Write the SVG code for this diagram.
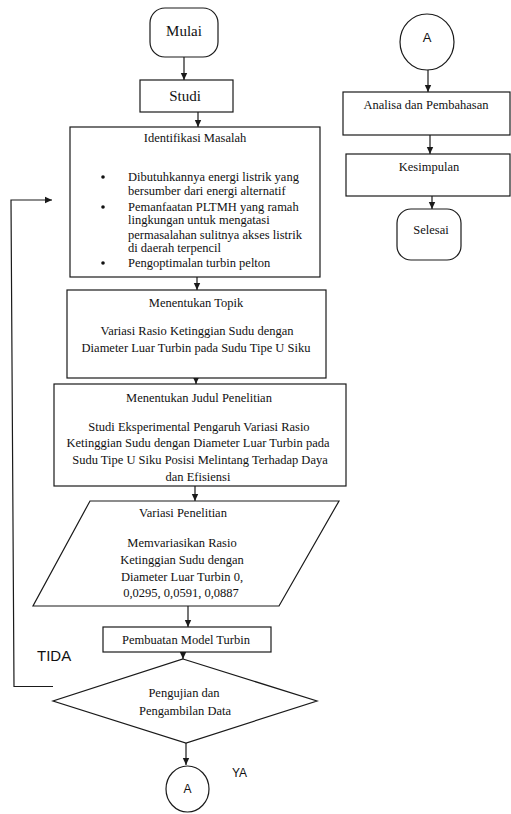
<svg xmlns="http://www.w3.org/2000/svg" width="511" height="814" viewBox="0 0 511 814">
<defs>
<marker id="ah" markerWidth="8" markerHeight="8" refX="7" refY="4" orient="auto" markerUnits="userSpaceOnUse">
<path d="M0,0.8 L7,4 L0,7.2 Z" fill="#1a1a1a"/>
</marker>
<style>
.s{fill:#fff;stroke:#1a1a1a;stroke-width:1.2}
.c{fill:none;stroke:#1a1a1a;stroke-width:1.2}
.t{font-family:"Liberation Serif","Times New Roman",serif;font-size:12.5px;fill:#111;text-anchor:middle}
.tl{font-family:"Liberation Serif","Times New Roman",serif;font-size:12.5px;fill:#111}
.big{font-family:"Liberation Serif","Times New Roman",serif;font-size:15px;fill:#111;text-anchor:middle}
.sa{font-family:"Liberation Sans",Arial,sans-serif;fill:#111}
</style>
</defs>
<rect width="511" height="814" fill="#fff"/>

<g id="connectors">
<line class="c" x1="184" y1="57" x2="184" y2="80" marker-end="url(#ah)"/>
<line class="c" x1="198" y1="112" x2="198" y2="127" marker-end="url(#ah)"/>
<line class="c" x1="197" y1="277" x2="197" y2="290" marker-end="url(#ah)"/>
<line class="c" x1="196" y1="378" x2="196" y2="384" marker-end="url(#ah)"/>
<line class="c" x1="195" y1="486" x2="195" y2="501" marker-end="url(#ah)"/>
<line class="c" x1="188" y1="606" x2="188" y2="627" marker-end="url(#ah)"/>
<line class="c" x1="183" y1="652" x2="183" y2="659" marker-end="url(#ah)"/>
<line class="c" x1="186" y1="743" x2="186" y2="765" marker-end="url(#ah)"/>
<polyline class="c" points="53,686.5 14,686.5 11,200 52,200" marker-end="url(#ah)"/>
<line class="c" x1="428" y1="70" x2="428" y2="92" marker-end="url(#ah)"/>
<line class="c" x1="430" y1="135" x2="430" y2="154" marker-end="url(#ah)"/>
<line class="c" x1="432" y1="196" x2="432" y2="209" marker-end="url(#ah)"/>
</g>

<g id="mulai">
<rect class="s" x="150" y="8" width="68" height="49" rx="15"/>
<text class="big" x="184" y="36">Mulai</text>
</g>

<g id="studi">
<rect class="s" x="140" y="80" width="93" height="32"/>
<text class="big" x="185" y="101">Studi</text>
</g>

<g id="identifikasi">
<rect class="s" x="70" y="127" width="250" height="150"/>
<text class="t" x="195" y="142">Identifikasi Masalah</text>
<circle cx="103" cy="177" r="1.8" fill="#111"/>
<circle cx="103" cy="207" r="1.8" fill="#111"/>
<circle cx="103" cy="263" r="1.8" fill="#111"/>
<text class="tl" x="128" y="181">Dibutuhkannya energi listrik yang</text>
<text class="tl" x="128" y="195">bersumber dari energi alternatif</text>
<text class="tl" x="128" y="211">Pemanfaatan PLTMH yang ramah</text>
<text class="tl" x="128" y="224">lingkungan untuk mengatasi</text>
<text class="tl" x="128" y="239">permasalahan sulitnya akses listrik</text>
<text class="tl" x="128" y="252">di daerah terpencil</text>
<text class="tl" x="128" y="267">Pengoptimalan turbin pelton</text>
</g>

<g id="topik">
<rect class="s" x="67" y="290" width="259" height="88"/>
<text class="t" x="196" y="307">Menentukan Topik</text>
<text class="t" x="197" y="335">Variasi Rasio Ketinggian Sudu dengan</text>
<text class="t" x="196" y="352">Diameter Luar Turbin pada Sudu Tipe U Siku</text>
</g>

<g id="judul">
<rect class="s" x="54" y="384" width="292" height="102"/>
<text class="t" x="199" y="402">Menentukan Judul Penelitian</text>
<text class="t" x="199" y="431">Studi Eksperimental Pengaruh Variasi Rasio</text>
<text class="t" x="198" y="447">Ketinggian Sudu dengan Diameter Luar Turbin pada</text>
<text class="t" x="200" y="464">Sudu Tipe U Siku Posisi Melintang Terhadap Daya</text>
<text class="t" x="198" y="481">dan Efisiensi</text>
</g>

<g id="variasi">
<polygon class="s" points="90,501 339,501 279,606 33,606"/>
<text class="t" x="183" y="517">Variasi Penelitian</text>
<text class="t" x="182" y="547">Memvariasikan Rasio</text>
<text class="t" x="182" y="564">Ketinggian Sudu dengan</text>
<text class="t" x="182" y="581">Diameter Luar Turbin 0,</text>
<text class="t" x="181" y="597">0,0295, 0,0591, 0,0887</text>
</g>

<g id="pembuatan">
<rect class="s" x="103" y="627" width="168" height="25"/>
<text class="t" x="186" y="644">Pembuatan Model Turbin</text>
</g>

<g id="pengujian">
<polygon class="s" points="183,659 317,701 186,743 53,701"/>
<text class="t" x="184" y="697">Pengujian dan</text>
<text class="t" x="185" y="715">Pengambilan Data</text>
</g>

<g id="connector-a-bottom">
<ellipse class="s" cx="187.5" cy="789" rx="21.5" ry="23"/>
<text class="sa" x="187.5" y="793" font-size="12" text-anchor="middle">A</text>
</g>

<text class="sa" x="37" y="661" font-size="15">TIDA</text>
<text class="sa" x="232" y="777" font-size="12">YA</text>

<g id="connector-a-top">
<ellipse class="s" cx="427" cy="42" rx="27" ry="28"/>
<text class="sa" x="427" y="42" font-size="13" text-anchor="middle">A</text>
</g>

<g id="analisa">
<rect class="s" x="343" y="92" width="167" height="43"/>
<text class="t" x="426" y="109">Analisa dan Pembahasan</text>
</g>

<g id="kesimpulan">
<rect class="s" x="346" y="154" width="164" height="42"/>
<text class="t" x="429" y="171">Kesimpulan</text>
</g>

<g id="selesai">
<rect class="s" x="397" y="209" width="64" height="51" rx="14"/>
<text class="t" x="431" y="234">Selesai</text>
</g>
</svg>
